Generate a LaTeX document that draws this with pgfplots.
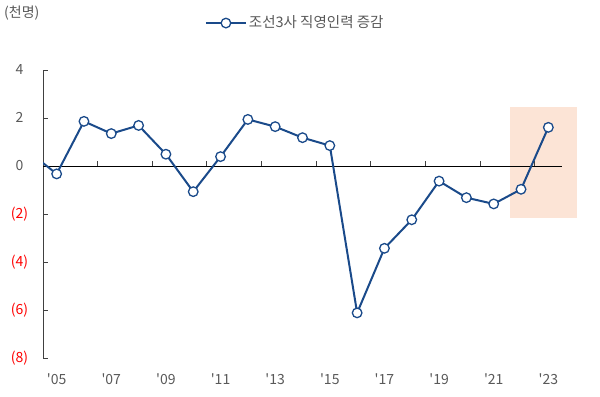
\documentclass[border=0pt]{standalone}
\usepackage{pgfplots}
\pgfplotsset{compat=1.18}
\usepackage{fontspec}
\setmainfont{Noto Sans CJK KR}
\definecolor{lineblue}{HTML}{1A4A8A}
\definecolor{txtgray}{HTML}{595959}
\definecolor{peach}{HTML}{FCE4D6}
\definecolor{axgray}{HTML}{404040}
% x = year - 2005
\pgfplotstableread{
x val
-1 0.58
0 -0.33
1 1.86
2 1.35
3 1.69
4 0.49
5 -1.07
6 0.39
7 1.94
8 1.64
9 1.18
10 0.85
11 -6.12
12 -3.43
13 -2.24
14 -0.63
15 -1.32
16 -1.58
17 -0.97
18 1.61
}\datatable
\begin{document}
\begin{tikzpicture}
\fontsize{14bp}{16bp}\selectfont
\begin{axis}[
  scale only axis, width=519bp, height=288bp,
  xmin=-0.5, xmax=18.5, ymin=-8, ymax=4,
  clip mode=individual,
  axis lines*=left,
  x axis line style={draw=none},
  y axis line style={draw=axgray, line width=0.9bp},
  xtick={0,2,...,18},
  xticklabels={\textquotesingle05,\textquotesingle07,\textquotesingle09,\textquotesingle11,\textquotesingle13,\textquotesingle15,\textquotesingle17,\textquotesingle19,\textquotesingle21,\textquotesingle23},
  xtick style={draw=none},
  xticklabel style={yshift=-11bp, text=txtgray},
  ytick={-8,-6,...,4},
  yticklabels={{\color{red}(8)},{\color{red}(6)},{\color{red}(4)},{\color{red}(2)},0\phantom{)},2\phantom{)},4\phantom{)}},
  yticklabel style={text=txtgray, xshift=-10bp},
  ytick style={draw=axgray, line width=0.9bp},
  tick align=inside, major tick length=5bp,
  /pgf/number format/assume math mode=true,
  legend style={draw=none, fill=none, at={(axis description cs:0.486,1.163)}, anchor=center, font=\color{txtgray}\fontsize{14.5bp}{16bp}\selectfont},
  legend image code/.code={\draw[mark repeat=2,mark phase=2] plot coordinates {(0bp,0bp)(20bp,0bp)(40bp,0bp)};},
]
\fill[peach] (axis cs:16.6,-2.15) rectangle (axis cs:19.05,2.47);
\draw[black, line width=0.9bp] (axis cs:-0.5,0) -- (axis cs:18.5,0);
\pgfplotsinvokeforeach{1.5,3.5,5.5,7.5,9.5,11.5,13.5,15.5,17.5}{
  \draw[axgray, line width=0.9bp] (axis cs:#1,0) -- (axis cs:#1,0.21);
}
\addplot[lineblue, line width=2bp, mark=*, mark size=4.8bp, mark options={fill=white, draw=lineblue, line width=1.3bp}] table[x=x,y=val] {\datatable};
\addlegendentry{조선3사 직영인력 증감}
\end{axis}
\node[anchor=west, inner sep=0pt, text=txtgray] at (-39bp,345bp) {(천명)};
\path[use as bounding box] (-43bp,-39bp) rectangle (557bp,358bp);
\end{tikzpicture}
\end{document}
